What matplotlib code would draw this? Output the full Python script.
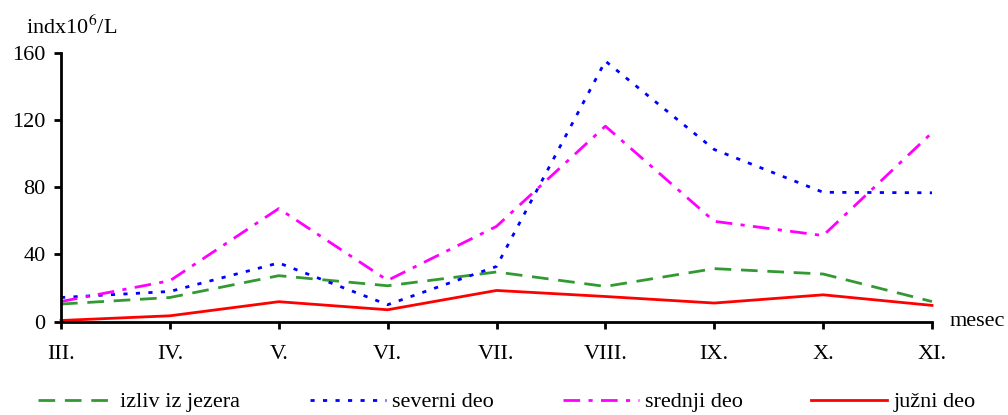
import matplotlib.pyplot as plt

plt.rcParams['font.family'] = ['Liberation Serif', 'DejaVu Serif']

meseci = ['III.', 'IV.', 'V.', 'VI.', 'VII.', 'VIII.', 'IX.', 'X.', 'XI.']
izliv = [10.4, 14.3, 27.3, 21.3, 29.5, 20.9, 31.5, 28.3, 11.9]
severni = [14.3, 17.9, 34.9, 10.0, 32.8, 155.2, 102.5, 77.0, 76.7]
srednji = [11.9, 24.3, 67.3, 24.5, 56.7, 116.4, 59.7, 51.2, 112.5]
juzni = [0.6, 3.4, 11.8, 7.0, 18.5, 14.9, 11.0, 15.9, 9.6]

W, H = 1008, 415
fig = plt.figure(figsize=(W / 100, H / 100), dpi=100)
ax = fig.add_axes([61 / W, 1 - 321.5 / H, (932 - 61) / W, (321.5 - 53) / H])

x = range(len(meseci))
h1, = ax.plot(x, izliv, color='#339933', lw=2, linestyle=(0, (6, 3.5)), label='izliv iz jezera')
h2, = ax.plot(x, severni, color='#0000ff', lw=2, linestyle=(0, (1.5, 3)), label='severni deo')
h3, = ax.plot(x, srednji, color='#ff00ff', lw=2, linestyle=(0, (6, 3, 1.5, 3)), label='srednji deo')
h4, = ax.plot(x, juzni, color='#ff0000', lw=2, linestyle='-', label='južni deo')

ax.set_xlim(0, 8)
ax.set_ylim(0, 160)
ax.set_yticks([0, 40, 80, 120, 160])
ax.set_xticks(list(x))
ax.set_xticklabels(meseci)
for s in ['top', 'right']:
    ax.spines[s].set_visible(False)
ax.spines['left'].set_linewidth(2)
ax.spines['bottom'].set_linewidth(2)
ax.tick_params(axis='both', direction='out', width=2, length=5, labelsize=16)
ax.tick_params(axis='y', pad=6)
ax.tick_params(axis='x', pad=12)
for l in ax.lines:
    l.set_clip_on(False)

fig.text(26 / W, 1 - 27 / H, r'indx10$^{6}$/L', fontsize=16, ha='left', va='center',
         math_fontfamily='stix')
fig.text(950 / W, 1 - 321.5 / H, 'mesec', fontsize=16, ha='left', va='center')

# legenda - svaki unos posebno
for h, x0 in [(h1, 38), (h2, 310), (h3, 563), (h4, 811)]:
    fig.legend(handles=[h], loc='center left', bbox_to_anchor=(x0 / W, 1 - 402 / H),
               frameon=False, fontsize=16, handlelength=3.4, handletextpad=0.3,
               borderpad=0, borderaxespad=0)

fig.savefig('out.png', dpi=100)
